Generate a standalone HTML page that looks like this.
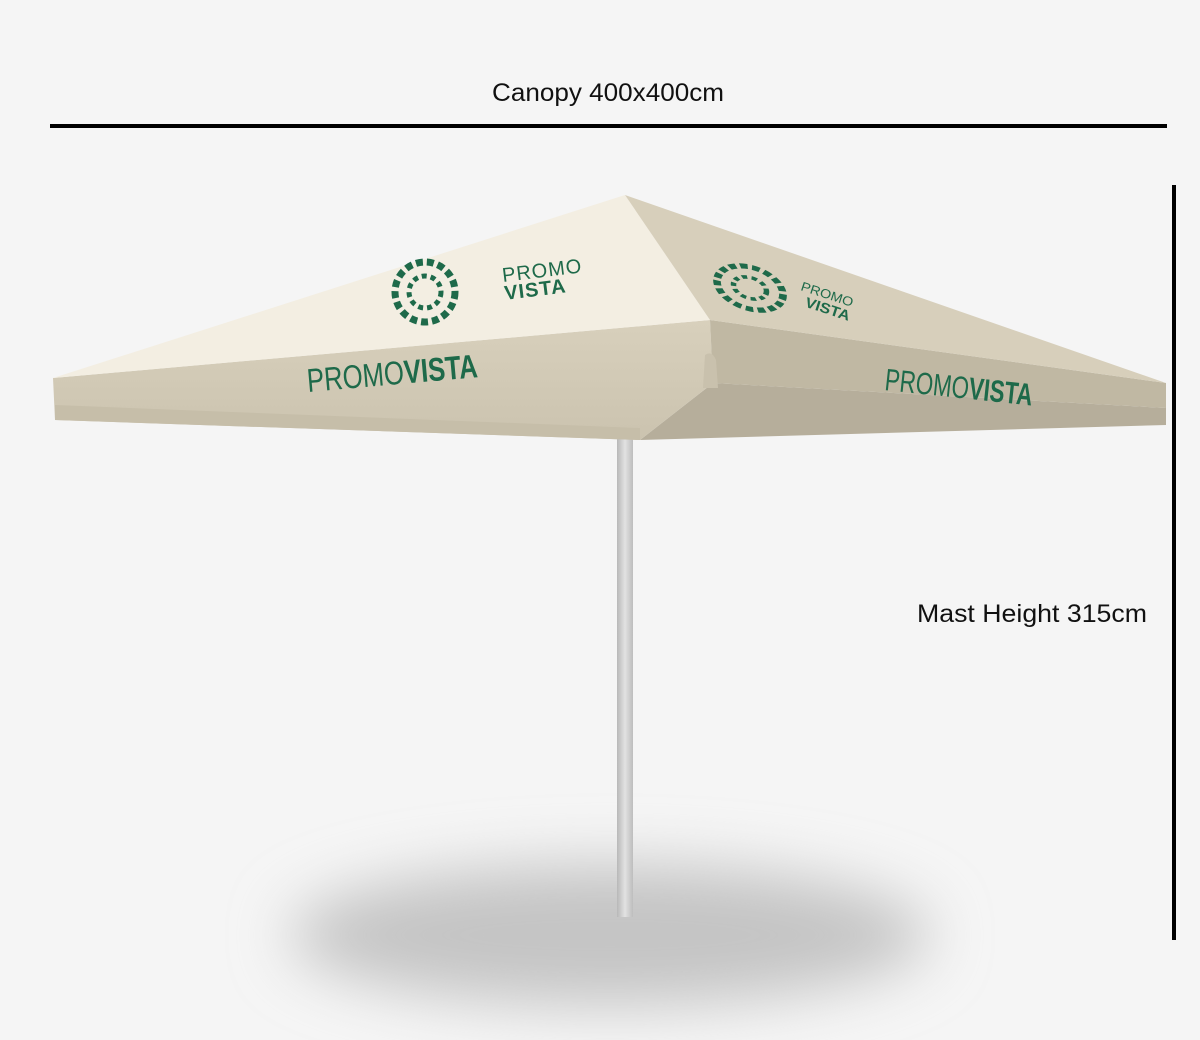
<!DOCTYPE html>
<html><head><meta charset="utf-8"><style>
html,body{margin:0;padding:0;background:#f5f5f5;width:1200px;height:1040px;overflow:hidden}
</style></head><body>
<svg width="1200" height="1040" viewBox="0 0 1200 1040" xmlns="http://www.w3.org/2000/svg">
<defs>
<filter id="bl" filterUnits="userSpaceOnUse" x="0" y="600" width="1200" height="440"><feGaussianBlur stdDeviation="30"/></filter>
<linearGradient id="pole" x1="0" x2="1"><stop offset="0" stop-color="#b8b8b8"/><stop offset="0.5" stop-color="#e2e2e2"/><stop offset="1" stop-color="#bdbdbd"/></linearGradient>
<linearGradient id="front" x1="0" y1="0" x2="0" y2="1"><stop offset="0" stop-color="#d8d0bc"/><stop offset="1" stop-color="#cbc3af"/></linearGradient>
</defs>
<rect width="1200" height="1040" fill="#f5f5f5"/>
<ellipse cx="610" cy="935" rx="320" ry="70" fill="#c4c4c4" filter="url(#bl)"/>
<text x="608" y="101" text-anchor="middle" font-family="Liberation Sans, sans-serif" font-size="25" fill="#111" textLength="232" lengthAdjust="spacingAndGlyphs">Canopy 400x400cm</text>
<rect x="50" y="124" width="1117" height="4" fill="#000"/>
<rect x="1172" y="185" width="4" height="755" fill="#000"/>
<text x="1147" y="622" text-anchor="end" font-family="Liberation Sans, sans-serif" font-size="25" fill="#111" textLength="230" lengthAdjust="spacingAndGlyphs">Mast Height 315cm</text>
<rect x="617" y="385" width="16" height="532" fill="url(#pole)"/>
<polygon points="713,383 1166,408 1166,425 640,440" fill="#b6ae9b"/>
<polygon points="53,378 710,320 713,383 640,440 55,420" fill="url(#front)"/>
<polygon points="55,405 640,428 640,440 55,420" fill="#c6bea9"/>
<polygon points="710,320 1166,383 1166,408 713,383" fill="#c0b8a3"/>
<path d="M705,355 Q712,350 716,360 L718,388 L703,388 Z" fill="#c9c1ad"/>
<polygon points="625,195 53,378 710,320" fill="#f3eee2"/>
<polygon points="625,195 710,320 1166,383" fill="#d7cfbb"/>
<g fill="#1e6a4a">
<circle cx="425" cy="292" r="30" fill="none" stroke="#1e6a4a" stroke-width="7" stroke-dasharray="7 4"/>
<circle cx="425" cy="292" r="16" fill="none" stroke="#1e6a4a" stroke-width="5" stroke-dasharray="5 4"/>
<g transform="translate(503,282) rotate(-7)" font-family="Liberation Sans, sans-serif">
<text x="0" y="0" font-size="20" letter-spacing="1">PROMO</text>
<text x="0" y="18" font-size="20" font-weight="bold" letter-spacing="1">VISTA</text>
</g>
<g transform="translate(750,288) skewY(12) scale(1.1,0.7)">
<circle cx="0" cy="0" r="30" fill="none" stroke="#1e6a4a" stroke-width="7" stroke-dasharray="7 4"/>
<circle cx="0" cy="0" r="15" fill="none" stroke="#1e6a4a" stroke-width="5" stroke-dasharray="5 4"/>
</g>
<g transform="translate(800,290) rotate(18) scale(0.9,0.8)" font-family="Liberation Sans, sans-serif">
<text x="0" y="0" font-size="16">PROMO</text>
<text x="10" y="18" font-size="18" font-weight="bold">VISTA</text>
</g>
<g transform="translate(308,392) rotate(-5) scale(0.78,1)" font-family="Liberation Sans, sans-serif" font-size="33">
<text x="0" y="0">PROMO<tspan font-weight="bold">VISTA</tspan></text>
</g>
<g transform="translate(884,390) rotate(6) scale(0.72,1)" font-family="Liberation Sans, sans-serif" font-size="31">
<text x="0" y="0">PROMO<tspan font-weight="bold">VISTA</tspan></text>
</g>
</g>
</svg>
</body></html>
